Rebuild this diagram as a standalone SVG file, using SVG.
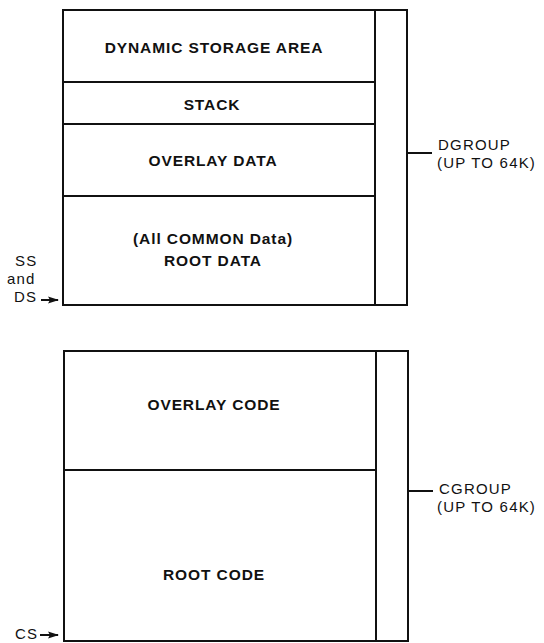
<svg xmlns="http://www.w3.org/2000/svg" width="544" height="643" viewBox="0 0 544 643">
  <style>
    .box { fill: none; stroke: #111; stroke-width: 2; }
    .ln { stroke: #111; stroke-width: 2; fill: none; }
    .seg { font-family: "Liberation Sans", Arial, sans-serif; font-weight: bold; font-size: 15.5px; letter-spacing: 0.9px; fill: #111; text-anchor: middle; }
    .lbl { font-family: "Liberation Sans", Arial, sans-serif; font-size: 15px; letter-spacing: 1.2px; fill: #111; }
  </style>
  <defs>
    <marker id="arrow" markerWidth="11" markerHeight="8" refX="10" refY="4" orient="auto" markerUnits="userSpaceOnUse">
      <polygon points="0,0.5 11,4 0,7.5 2,4" fill="#111"/>
    </marker>
  </defs>

  <!-- Data group: DGROUP -->
  <g id="dgroup">
    <rect class="box" x="63" y="10" width="344" height="295"/>
    <line class="ln" x1="375" y1="10" x2="375" y2="305"/>
    <line class="ln" x1="63" y1="82" x2="375" y2="82"/>
    <line class="ln" x1="63" y1="124" x2="375" y2="124"/>
    <line class="ln" x1="63" y1="196" x2="375" y2="196"/>
  </g>
  <g id="dynamic-storage"><text class="seg" x="214" y="53">DYNAMIC STORAGE AREA</text></g>
  <g id="stack"><text class="seg" x="212" y="110">STACK</text></g>
  <g id="overlay-data"><text class="seg" x="213" y="166">OVERLAY DATA</text></g>
  <g id="root-data">
    <text class="seg" x="213" y="244">(All COMMON Data)</text>
    <text class="seg" x="213" y="266">ROOT DATA</text>
  </g>
  <g id="dgroup-label">
    <text class="lbl" x="438" y="150">DGROUP</text>
    <text class="lbl" x="437" y="168">(UP TO 64K)</text>
  </g>
  <g id="ss-ds-label">
    <text class="lbl" x="15" y="266">SS</text>
    <text class="lbl" x="7" y="284">and</text>
    <text class="lbl" x="14" y="302">DS</text>
  </g>

  <!-- Code group: CGROUP -->
  <g id="cgroup">
    <rect class="box" x="64" y="351" width="344" height="290"/>
    <line class="ln" x1="376" y1="351" x2="376" y2="641"/>
    <line class="ln" x1="64" y1="470" x2="376" y2="470"/>
  </g>
  <g id="overlay-code"><text class="seg" x="214" y="410">OVERLAY CODE</text></g>
  <g id="root-code"><text class="seg" x="214" y="580">ROOT CODE</text></g>
  <g id="cgroup-label">
    <text class="lbl" x="439" y="494">CGROUP</text>
    <text class="lbl" x="437" y="512">(UP TO 64K)</text>
  </g>
  <g id="cs-label"><text class="lbl" x="15" y="639">CS</text></g>

  <!-- Connectors: group ticks and register arrows -->
  <g id="connectors">
    <line class="ln" x1="408" y1="153" x2="432" y2="153"/>
    <line class="ln" x1="409" y1="491" x2="433" y2="491"/>
    <line class="ln" x1="41" y1="300" x2="58" y2="300" marker-end="url(#arrow)"/>
    <line class="ln" x1="40" y1="635" x2="58" y2="635" marker-end="url(#arrow)"/>
  </g>
</svg>
